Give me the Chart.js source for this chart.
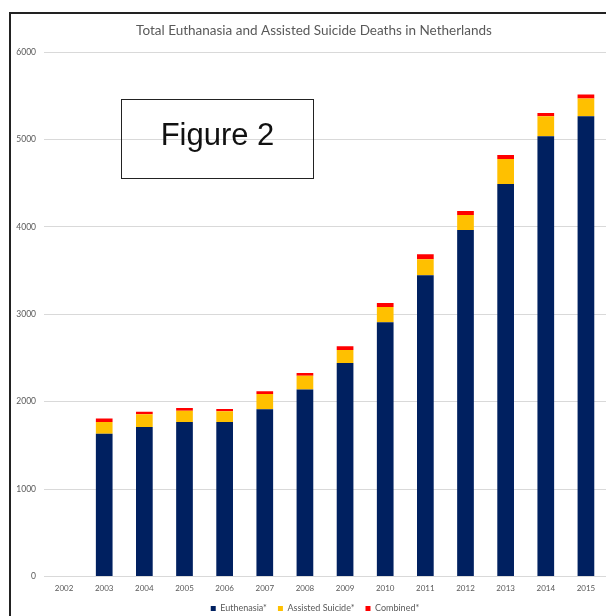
<!DOCTYPE html>
<html>
<head>
<meta charset="utf-8">
<script src="https://cdn.jsdelivr.net/npm/chart.js@4.4.1/dist/chart.umd.min.js"></script>
<style>
  html, body { margin: 0; padding: 0; background: #ffffff; }
  #wrap { position: relative; width: 606px; height: 616px; overflow: hidden; background: #fff; }
  #frame { position: absolute; left: 9px; top: 12px; width: 620px; height: 640px; border-top: 2px solid #222; border-left: 2px solid #222; box-sizing: border-box; pointer-events: none; }
  #c { position: absolute; left: 0; top: 0; }
  #fig { position: absolute; left: 121px; top: 99px; width: 193px; height: 80px; border: 1px solid #222; box-sizing: border-box;
         font-family: "Liberation Sans", Arial, sans-serif; font-size: 31px; color: #111; display: flex; align-items: center; justify-content: center; padding-bottom: 9px; }
</style>
</head>
<body>
<div id="wrap">
  <canvas id="c" width="616" height="616"></canvas>
  <div id="frame"></div>
  <div id="fig">Figure 2</div>
</div>
<script>
const years = ["2002","2003","2004","2005","2006","2007","2008","2009","2010","2011","2012","2013","2014","2015"];
const euthanasia = [null, 1634, 1710, 1767, 1767, 1912, 2138, 2442, 2909, 3447, 3965, 4492, 5038, 5267];
const assistedSuicide = [null, 133, 145, 130, 122, 176, 160, 149, 175, 183, 172, 286, 229, 203];
const combined = [null, 39, 31, 30, 27, 30, 30, 43, 46, 57, 46, 46, 38, 46];
const yTicks = [0, 1000, 2000, 3000, 4000, 5000, 6000];

const gray = "#595959";
const fontFam = "Lato, 'Open Sans', sans-serif";

const shiftText = {
  id: "shiftText",
  afterLayout(chart) {
    if (chart.titleBlock) { chart.titleBlock.left += 5; chart.titleBlock.right += 5; }
    if (chart.legend) { chart.legend.left += 6; chart.legend.right += 6; }
  }
};

new Chart(document.getElementById("c"), {
  type: "bar",
  data: {
    labels: years,
    datasets: [
      { label: "Euthenasia*", data: euthanasia, backgroundColor: "#002060", borderWidth: 0 },
      { label: "Assisted Suicide*", data: assistedSuicide, backgroundColor: "#FFC000", borderWidth: 0 },
      { label: "Combined*", data: combined, backgroundColor: "#FF0000", borderWidth: 0 }
    ]
  },
  plugins: [shiftText],
  options: {
    responsive: false,
    animation: false,
    layout: { padding: { top: 20, left: 12, right: 10, bottom: -7 } },
    datasets: { bar: { categoryPercentage: 0.8, barPercentage: 0.52 } },
    plugins: {
      title: {
        display: true,
        text: "Total Euthanasia and Assisted Suicide Deaths in Netherlands",
        color: gray,
        font: { family: fontFam, size: 13.5, weight: "normal" },
        padding: { top: 3, bottom: 13 }
      },
      legend: {
        position: "bottom",
        labels: {
          color: gray,
          font: { family: fontFam, size: 9 },
          boxWidth: 5, boxHeight: 5, padding: 11
        }
      },
      tooltip: { enabled: false }
    },
    scales: {
      x: {
        stacked: true,
        afterFit: (s) => { s.height = s.height - 7; },
        grid: { display: false, drawTicks: false },
        border: { display: false },
        ticks: { color: gray, font: { family: fontFam, size: 8 }, padding: 7, maxRotation: 0 }
      },
      y: {
        stacked: true,
        min: 0, max: 6000,
        afterBuildTicks: (s) => { s.ticks = yTicks.map(v => ({ value: v })); },
        afterFit: (s) => { s.width = 32; },
        grid: { color: "#d9d9d9", lineWidth: 1, drawTicks: false },
        border: { display: false },
        ticks: { color: gray, font: { family: fontFam, size: 8.5 }, padding: 8, callback: (v) => String(v) }
      }
    }
  }
});
</script>
</body>
</html>
